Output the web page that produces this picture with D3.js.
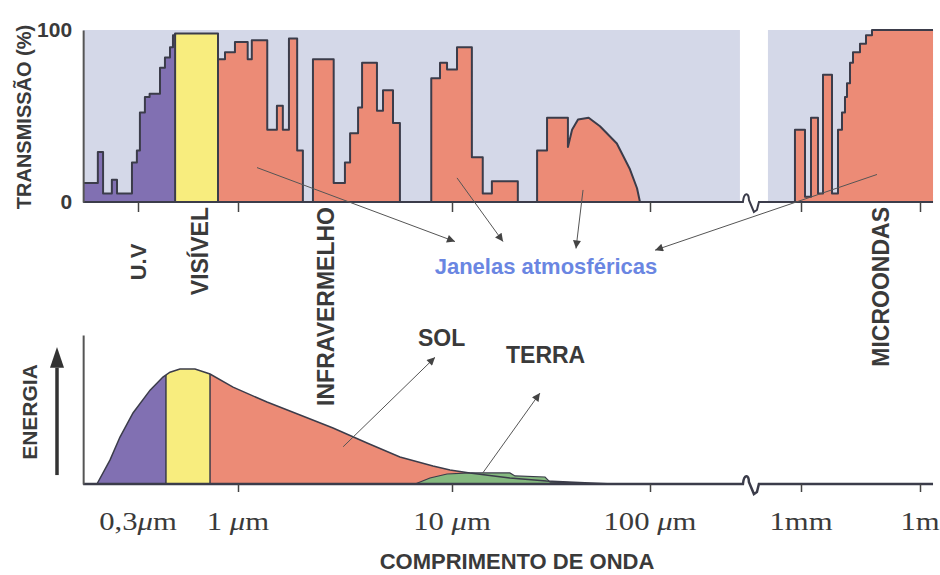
<!DOCTYPE html>
<meta charset="utf-8">
<style>
body { margin: 0; background: #fff; }
svg text { font-family: Arial, "Liberation Sans", sans-serif; }
.lbl { font-weight: bold; fill: #3a3a3a; }
.num { font-family: "Liberation Serif", "Times New Roman", serif; fill: #3a3a3a; font-size: 26px; }
.arrow { stroke: #555; stroke-width: 1; fill: none; }
</style>
<body>
<svg id="chart" width="940" height="575"></svg>

<script src="https://d3js.org/d3.v7.min.js"></script>
<script>

// wavelength axis (micrometres)
var tickVals = [0.3, 1, 10, 100, 1000, 1e6];
var tickLabels = ["0,3μm", "1 μm", "10 μm", "100 μm", "1mm", "1m"];

// atmospheric transmission (%), step points [wavelength, value]
var transSteps = [
  [0.155, 11], [0.185, 29], [0.197, 5], [0.219, 13], [0.233, 5],
  [0.279, 23], [0.296, 30], [0.307, 52], [0.326, 61], [0.345, 63],
  [0.391, 78], [0.415, 84], [0.441, 90], [0.457, 97], [0.469, 98],
  [0.786, 83], [0.855, 87], [0.964, 93], [1.11, 83], [1.16, 94],
  [1.37, 42], [1.52, 56], [1.62, 42], [1.73, 95], [1.89, 30],
  [2.01, 0], [2.24, 83], [2.8, 11], [3.16, 23], [3.34, 40],
  [3.64, 55], [3.80, 81], [4.46, 53], [4.76, 65], [5.30, 46],
  [5.71, 0], [8.0, 72], [8.79, 81], [9.48, 77], [10.6, 90],
  [12.6, 26], [14.3, 5], [15.9, 12], [21.5, 0], [26.9, 30],
  [30.2, 49], [38.5, 32]
];
// smooth window around 40-90 um (linear points)
var transHill = [
  [38.5, 32], [40.4, 42], [43.3, 48], [49, 49], [55.9, 44],
  [68, 34], [79.2, 19], [86, 8], [89, 0], [394, 0]
];
// microwave side, after the axis break
var microSteps = [
  [604, 0], [912, 42], [1261, 3], [1787, 49], [2683, 5],
  [3586, 74], [6046, 5], [8565, 42], [10800, 52], [12850, 61],
  [14440, 69], [17200, 81], [20460, 87], [30700, 92], [43500, 97],
  [61660, 100], [2.13e6, 100]
];
var axisStart = 0.155, breakFrom = 394, breakTo = 604, axisEnd = 2.13e6;

// emitted energy (arbitrary units)
var sunCurve = [
  [0.183, 0], [0.214, 16], [0.2415, 31.5], [0.2825, 47.7], [0.347, 63],
  [0.405, 71.8], [0.441, 75], [0.497, 77.2], [0.596, 77.2], [0.714, 73.8],
  [0.942, 65], [1.366, 55], [1.95, 46.3], [2.78, 37.6], [4.01, 27.5],
  [5.71, 18.1], [8.15, 12.1], [9.79, 9.4], [12.3, 7.4], [19.6, 4],
  [30, 2], [50, 0.6], [65, 0]
];
var earthCurve = [
  [6.72, 0], [7.89, 4], [9.48, 6.7], [12.3, 7.4], [19.6, 7.4],
  [20.8, 5.4], [29.5, 4.7], [31.3, 1.3], [44.3, 0.7], [46.9, 0]
];

// colour bands: [upper wavelength limit]
var topBands = [0.469, 0.786];
var bottomBands = [0.42, 0.714];
var bandColors = ["#8170b2", "#f8ed7e", "#ec8b76"];

// region names and where they sit
var regionNames = ["VISÍVEL", "INFRAVERMELHO", "MICROONDAS"];
var regionLambda = [0.633, 2.58, 1.04e5];

// arrows [from, to] as [wavelength, value]
var windowArrows = [
  [[1.227, 20], [10.35, -23]],
  [[10.6, 14], [18.1, -23]],
  [[45.9, 7], [42.3, -27]],
  [[82400, 16], [108, -28]]
];
var sunArrow = [[3.10, 25], [8.33, 85]];
var earthArrow = [[14.3, 7.4], [27.8, 61]];

var ink = "#3b3c4a", panelBg = "#d4d8e8";

var svg = d3.select("#chart");

var x = d3.scaleLog()
    .domain(tickVals)
    .range([138, 238, 452, 650, 801, 920]);

var yT = d3.scaleLinear().domain([0, 100]).range([202, 30]);
var yE = d3.scaleLinear().domain([0, 100]).range([484, 335]);

var defs = svg.append("defs");
defs.append("marker")
    .attr("id", "head")
    .attr("viewBox", "0 0 10 10")
    .attr("refX", 10).attr("refY", 5)
    .attr("markerWidth", 9).attr("markerHeight", 8)
    .attr("markerUnits", "userSpaceOnUse")
    .attr("orient", "auto")
  .append("path")
    .attr("d", "M0,0L10,5L0,10Z")
    .attr("fill", "#444");

function stepVerts(steps) {
  var v = [];
  steps.forEach(function(d, i) {
    if (i > 0) v.push([d[0], steps[i - 1][1]]);
    v.push(d);
  });
  return v;
}

function bandClips(prefix, limits, y0, y1) {
  var edges = [1e-3].concat(limits).concat([1e9]);
  bandColors.forEach(function(c, i) {
    var a = Math.max(0, x(edges[i])), b = Math.min(940, x(edges[i + 1]));
    defs.append("clipPath").attr("id", prefix + i)
      .append("rect")
        .attr("x", a).attr("width", b - a)
        .attr("y", y1).attr("height", y0 - y1 + 1);
  });
}

function valueAt(pts, w) {
  var best = 0;
  for (var i = 0; i < pts.length - 1; i++) {
    var a = pts[i], b = pts[i + 1];
    if (w >= a[0] && w <= b[0]) {
      var t = (Math.log(w) - Math.log(a[0])) / (Math.log(b[0]) - Math.log(a[0]) || 1);
      best = Math.max(best, a[1] + (b[1] - a[1]) * t);
    }
  }
  return best;
}

function breakPath(y) {
  var x0 = x(breakFrom), x1 = x(breakTo);
  return "M" + x(axisStart) + "," + y + "H" + (x0 + 3) +
    "C" + (x0 + 4) + "," + (y - 10) + " " + (x0 + 9) + "," + (y - 10) + " " + (x0 + 9) + "," + (y - 2) +
    "L" + (x0 + 14) + "," + (y + 10) + "L" + (x0 + 17) + "," + (y + 8) + "L" + (x0 + 19) + "," + y +
    "H" + x(axisEnd);
}

// ---------- top panel: transmission ----------
var gTop = svg.append("g");

[[axisStart, breakFrom], [breakTo, axisEnd]].forEach(function(r) {
  gTop.append("rect")
      .attr("x", x(r[0])).attr("y", yT(100))
      .attr("width", x(r[1]) - x(r[0])).attr("height", yT(0) - yT(100))
      .attr("fill", panelBg);
});

var topLeft = stepVerts(transSteps).concat(transHill.slice(1));
var topRight = stepVerts(microSteps);

var areaT = d3.area().x(function(d) { return x(d[0]); }).y0(yT(0)).y1(function(d) { return yT(d[1]); });
var lineT = d3.line().x(function(d) { return x(d[0]); }).y(function(d) { return yT(d[1]); });

bandClips("tb", topBands, yT(0), yT(100) - 2);
bandColors.forEach(function(c, i) {
  [topLeft, topRight].forEach(function(part) {
    gTop.append("path").datum(part)
        .attr("d", areaT)
        .attr("fill", c)
        .attr("clip-path", "url(#tb" + i + ")");
  });
});

topBands.forEach(function(w) {
  gTop.append("line")
      .attr("x1", x(w)).attr("x2", x(w))
      .attr("y1", yT(0)).attr("y2", yT(valueAt(topLeft, w)))
      .attr("stroke", ink).attr("stroke-width", 2);
});

[topLeft, topRight].forEach(function(part) {
  gTop.append("path").datum(part)
      .attr("d", lineT)
      .attr("fill", "none")
      .attr("stroke", ink)
      .attr("stroke-width", 2)
      .attr("stroke-linejoin", "round");
});

gTop.append("path").attr("d", breakPath(yT(0)))
    .attr("fill", "none").attr("stroke", ink).attr("stroke-width", 2);

gTop.append("g")
    .attr("transform", "translate(0," + yT(0) + ")")
    .call(d3.axisBottom(x).tickValues(tickVals).tickSize(10).tickFormat(""))
    .call(function(g) { g.select(".domain").remove(); })
    .selectAll("line").attr("stroke", "#444").attr("stroke-width", 1.5);

gTop.append("g")
    .attr("transform", "translate(" + x(axisStart) + ",0)")
    .call(d3.axisLeft(yT).tickValues([0, 100]).tickSize(0).tickPadding(11).tickSizeOuter(0))
    .call(function(g) {
      g.select(".domain").attr("stroke", "#555").attr("stroke-width", 2);
      g.selectAll("text").attr("class", "lbl").attr("font-size", 21).attr("fill", "#3a3a3a");
    });

svg.append("text").attr("class", "lbl")
    .attr("transform", "translate(24,117) rotate(-90)")
    .attr("text-anchor", "middle").attr("dy", "0.35em")
    .attr("font-size", 20)
    .text("TRANSMISSÃO (%)");

// region labels
svg.append("text").attr("class", "lbl")
    .attr("transform", "translate(" + x(0.3) + ",262) rotate(-90)")
    .attr("text-anchor", "middle").attr("dy", "0.35em")
    .attr("font-size", 22)
    .text("U.V");

regionNames.forEach(function(n, i) {
  svg.append("text").attr("class", "lbl")
      .attr("transform", "translate(" + x(regionLambda[i]) + ",207) rotate(-90)")
      .attr("text-anchor", "end").attr("dy", "0.35em")
      .attr("font-size", 23)
      .text(n);
});

windowArrows.forEach(function(a) {
  svg.append("line").attr("class", "arrow")
      .attr("x1", x(a[0][0])).attr("y1", yT(a[0][1]))
      .attr("x2", x(a[1][0])).attr("y2", yT(a[1][1]))
      .attr("marker-end", "url(#head)");
});

svg.append("text")
    .attr("x", 546).attr("y", 274)
    .attr("text-anchor", "middle")
    .attr("font-size", 22)
    .attr("font-weight", "bold")
    .attr("fill", "#6a86e2")
    .text("Janelas atmosféricas");

// ---------- bottom panel: energy ----------
var gBot = svg.append("g");

var areaE = d3.area().x(function(d) { return x(d[0]); }).y0(yE(0)).y1(function(d) { return yE(d[1]); });
var lineE = d3.line().x(function(d) { return x(d[0]); }).y(function(d) { return yE(d[1]); });

bandClips("bb", bottomBands, yE(0), yE(100));
bandColors.forEach(function(c, i) {
  gBot.append("path").datum(sunCurve)
      .attr("d", areaE)
      .attr("fill", c)
      .attr("clip-path", "url(#bb" + i + ")");
});

bottomBands.forEach(function(w) {
  gBot.append("line")
      .attr("x1", x(w)).attr("x2", x(w))
      .attr("y1", yE(0)).attr("y2", yE(valueAt(sunCurve, w)))
      .attr("stroke", ink).attr("stroke-width", 1.5);
});

gBot.append("path").datum(earthCurve)
    .attr("d", areaE)
    .attr("fill", "#85b97f");

gBot.append("path").datum(sunCurve)
    .attr("d", lineE)
    .attr("fill", "none").attr("stroke", ink).attr("stroke-width", 1.5);
gBot.append("path").datum(earthCurve)
    .attr("d", lineE)
    .attr("fill", "none").attr("stroke", ink).attr("stroke-width", 1.2);

gBot.append("path").attr("d", breakPath(yE(0)))
    .attr("fill", "none").attr("stroke", ink).attr("stroke-width", 2.5);

gBot.append("g")
    .attr("transform", "translate(0," + yE(0) + ")")
    .call(d3.axisBottom(x).tickValues(tickVals.slice(1)).tickSize(8).tickFormat(""))
    .call(function(g) { g.select(".domain").remove(); })
    .selectAll("line").attr("stroke", "#444").attr("stroke-width", 1.5);

gBot.append("g")
    .attr("transform", "translate(" + x(axisStart) + ",0)")
    .call(d3.axisLeft(yE).tickValues([]).tickSizeOuter(0))
    .select(".domain").attr("stroke", "#555").attr("stroke-width", 2);

// tick labels with italic mu
tickVals.forEach(function(v, i) {
  var parts = tickLabels[i].split("μ");
  var t = gBot.append("g")
      .attr("transform", "translate(" + x(v) + ",530) scale(1.18,1)")
    .append("text")
      .attr("class", "num")
      .attr("text-anchor", "middle");
  t.append("tspan").text(parts[0]);
  if (parts.length > 1) {
    t.append("tspan").attr("font-style", "italic").text("μ");
    t.append("tspan").text(parts[1]);
  }
});

svg.append("text").attr("class", "lbl")
    .attr("x", 517).attr("y", 569)
    .attr("text-anchor", "middle")
    .attr("font-size", 22)
    .text("COMPRIMENTO DE ONDA");

// energy axis arrow
gBot.append("line")
    .attr("x1", 57).attr("x2", 57)
    .attr("y1", yE(6)).attr("y2", yE(78))
    .attr("stroke", "#333").attr("stroke-width", 3.5);
gBot.append("path")
    .attr("d", "M57," + yE(92) + "L64," + yE(78) + "L50," + yE(78) + "Z")
    .attr("fill", "#333");

svg.append("text").attr("class", "lbl")
    .attr("transform", "translate(30,412) rotate(-90)")
    .attr("text-anchor", "middle").attr("dy", "0.35em")
    .attr("font-size", 21)
    .text("ENERGIA");

[sunArrow, earthArrow].forEach(function(a) {
  svg.append("line").attr("class", "arrow")
      .attr("x1", x(a[0][0])).attr("y1", yE(a[0][1]))
      .attr("x2", x(a[1][0])).attr("y2", yE(a[1][1]))
      .attr("marker-end", "url(#head)");
});

svg.append("text").attr("class", "lbl")
    .attr("x", 418).attr("y", 346)
    .attr("font-size", 23)
    .text("SOL");

svg.append("text").attr("class", "lbl")
    .attr("x", 506).attr("y", 363)
    .attr("font-size", 23)
    .text("TERRA");

</script>
